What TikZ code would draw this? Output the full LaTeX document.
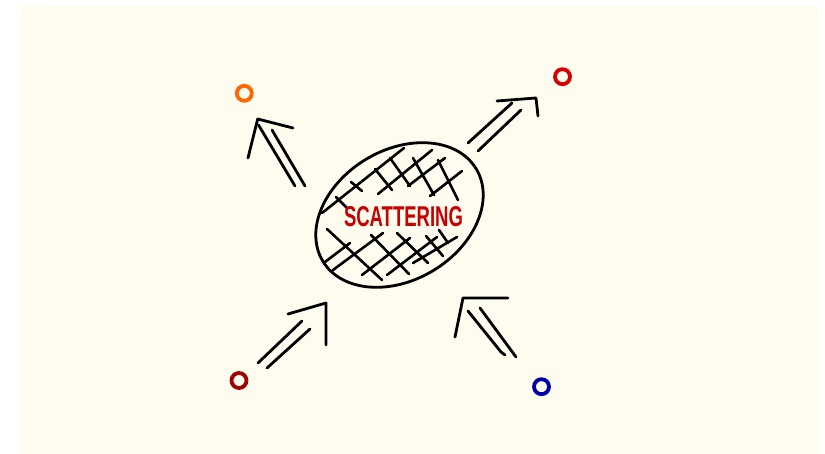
\documentclass[tikz,border=0pt]{standalone}
\usepackage{fontspec}
\setmainfont{Liberation Sans}
\usetikzlibrary{shapes.geometric}
\definecolor{bgcream}{RGB}{253,252,238}
\definecolor{ptorange}{RGB}{255,102,0}
\definecolor{ptred}{RGB}{214,0,0}
\definecolor{ptdark}{RGB}{160,0,0}
\definecolor{ptblue}{RGB}{0,0,170}
\definecolor{txtred}{RGB}{200,0,0}
\tikzset{
  pen/.style={line width=2.8pt, line cap=round, line join=round, black},
  hatch/.style={line width=2.6pt, line cap=round, black},
  particle/.style={circle, draw=#1, line width=3.8pt, fill=bgcream, minimum size=15pt, inner sep=0pt},
}
\begin{document}
\begin{tikzpicture}[x=1pt,y=-1pt]
\useasboundingbox (0,0) rectangle (825,454);
\fill[bgcream] (22,6) rectangle (818,454);

% scattering region
\coordinate (c) at (399.5,215);
\draw[pen, rotate around={31:(c)}] (c) ellipse [x radius=89.5, y radius=65];

% upper hatching
\draw[hatch]
  (322,213) -- (404,148)
  (378,194) -- (432,150)
  (408,186) -- (445,158)
  (430,196) -- (462,171)
  (336,197) -- (347,208)
  (351,182) -- (362,191)
  (375,169) -- (392,190)
  (390,158) -- (410,186)
  (413,158) -- (434,195)
  (438,160) -- (458,200);
% lower hatching
\draw[hatch]
  (327,229) -- (382,280)
  (371,235) -- (409,274)
  (397,233) -- (428,263)
  (426,236) -- (443,256)
  (439,230) -- (448,243)
  (325,262) -- (350,243)
  (333,270) -- (383,233)
  (362,275) -- (410,238)
  (387,275) -- (437,237)
  (413,263) -- (457,237);

\node[inner sep=0pt, text=txtred] (lbl) at (403.5,217)
  {\resizebox{119pt}{20pt}{\bfseries SCATTERING}};

% particles
\node[particle=ptorange] (pul) at (244.3,93.3) {};
\node[particle=ptred]    (pur) at (562.5,76.7) {};
\node[particle=ptdark]   (pll) at (239,380.5) {};
\node[particle=ptblue]   (plr) at (541.5,386.7) {};

% upper-left arrow (outgoing)
\coordinate (ult) at (257.7,119);
\coordinate (ulw1) at (293,128);
\coordinate (ulw2) at (248,158);
\coordinate (uls1a) at (258.5,125); \coordinate (uls1b) at (295,186);
\coordinate (uls2a) at (272,130);   \coordinate (uls2b) at (305,186);
\draw[pen] (ulw1) -- (ult) -- (ulw2);
\draw[pen] (uls1a) -- (uls1b);
\draw[pen] (uls2a) -- (uls2b);

% upper-right arrow (outgoing)
\coordinate (urt) at (536,98);
\coordinate (urw1) at (497,101);
\coordinate (urw2) at (538,116);
\coordinate (urs1a) at (468,143); \coordinate (urs1b) at (512,103);
\coordinate (urs2a) at (478,151); \coordinate (urs2b) at (521,110);
\draw[pen] (urw1) -- (urt) -- (urw2);
\draw[pen] (urs1a) -- (urs1b);
\draw[pen] (urs2a) -- (urs2b);

% lower-left arrow (incoming)
\coordinate (llt) at (326,303);
\coordinate (llw1) at (288,314);
\coordinate (llw2) at (326,345);
\coordinate (lls1a) at (258,363); \coordinate (lls1b) at (302,321);
\coordinate (lls2a) at (267,368); \coordinate (lls2b) at (310,329);
\draw[pen] (llw1) -- (llt) -- (llw2);
\draw[pen] (lls1a) -- (lls1b);
\draw[pen] (lls2a) -- (lls2b);

% lower-right arrow (incoming)
\coordinate (lrt) at (463,298);
\coordinate (lrw1) at (508,298);
\coordinate (lrw2) at (455,337);
\coordinate (lrs1a) at (468,311); \coordinate (lrs1b) at (501,352); \coordinate (lrs1c) at (505,355);
\coordinate (lrs2a) at (480,308); \coordinate (lrs2b) at (516,357);
\draw[pen] (lrw1) -- (lrt) -- (lrw2);
\draw[pen] (lrs1a) -- (lrs1b) -- (lrs1c);
\draw[pen] (lrs2a) -- (lrs2b);
\end{tikzpicture}
\end{document}
